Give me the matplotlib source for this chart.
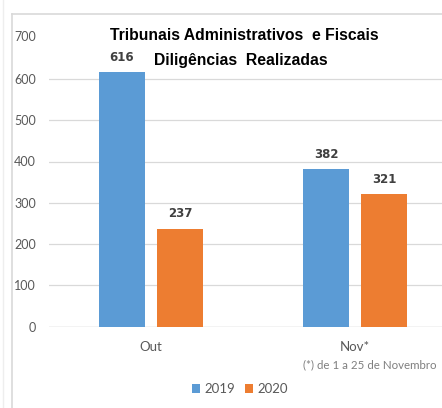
import matplotlib
matplotlib.use("Agg")
import matplotlib.pyplot as plt
from matplotlib.lines import Line2D
from matplotlib.patches import Patch

categories = ["Out", "Nov*"]
series_names = ["2019", "2020"]
values_2019 = [616, 382]
values_2020 = [237, 321]
y_ticks = [0, 100, 200, 300, 400, 500, 600, 700]

W, H = 442, 408
fig = plt.figure(figsize=(W / 100, H / 100), dpi=100)
fig.patch.set_facecolor("white")

def fx(px):
    return px / W

def fy(py):
    return 1 - py / H

# outer frame of the chart object
frame_col = "#d9d9d9"
fig.add_artist(Line2D([fx(12), fx(12)], [fy(14), 0], color=frame_col, lw=1.2, transform=fig.transFigure))
fig.add_artist(Line2D([fx(12), 1], [fy(14), fy(14)], color=frame_col, lw=1.2, transform=fig.transFigure))
fig.add_artist(Line2D([fx(3), fx(3)], [1, 0], color="#eeeeee", lw=1.0, transform=fig.transFigure))

left, right = 49, 457
top, bottom = 37.6, 326.7
ax = fig.add_axes([fx(left), fy(bottom), (right - left) / W, (bottom - top) / H])
ax.set_xlim(-0.5, 1.5)
ax.set_ylim(0, 700)

blue = "#5b9bd5"
orange = "#ed7d31"
width = 0.225
off = 0.142
xs = range(len(categories))
b1 = ax.bar([x - off for x in xs], values_2019, width, color=blue, zorder=3)
b2 = ax.bar([x + off for x in xs], values_2020, width, color=orange, zorder=3)

for bars, vals in ((b1, values_2019), (b2, values_2020)):
    for rect, v in zip(bars, vals):
        ax.annotate(str(v), (rect.get_x() + rect.get_width() / 2, v),
                    xytext=(0, 6), textcoords="offset points", ha="center", va="bottom",
                    fontsize=8.5, fontweight="bold", color="#404040",
                    family="DejaVu Sans", zorder=4)

ax.set_yticks(y_ticks[:-1])
ax.yaxis.grid(True, color=frame_col, lw=0.9, zorder=0)
for s in ax.spines.values():
    s.set_visible(False)
ax.axhline(0, color=frame_col, lw=1.0, zorder=2)
ax.tick_params(axis="both", length=0)
ax.set_yticklabels([str(t) for t in y_ticks[:-1]], fontsize=9, color="#595959", family="Lato")
ax.yaxis.set_tick_params(pad=9.4)
ax.set_xticks([])

# top tick label sits at the axes edge
fig.text(fx(36), fy(37), str(y_ticks[-1]), fontsize=9, color="#595959", family="Lato",
         ha="right", va="center")

# category labels
for x, lab in zip(xs, categories):
    ax.text(x, -(347 - bottom) / (bottom - top), lab, transform=ax.get_xaxis_transform(),
            ha="center", va="center", fontsize=9.5, color="#595959", family="Lato")

fig.text(fx(303), fy(365), "(*) de 1 a 25 de Novembro", fontsize=8.3, color="#7f7f7f",
         family="Lato", ha="left", va="center")

# title
fig.text(fx(244), fy(35), "Tribunais Administrativos  e Fiscais", fontsize=11.3, fontweight="bold",
         family="Liberation Sans", color="black", ha="center", va="center")
fig.text(fx(241), fy(60), "Diligências  Realizadas", fontsize=11.3, fontweight="bold",
         family="Liberation Sans", color="black", ha="center", va="center")

handles = [Patch(facecolor=blue, label=series_names[0]), Patch(facecolor=orange, label=series_names[1])]
fig.legend(handles=handles, loc="center", bbox_to_anchor=(fx(240), fy(389)), ncol=2, frameon=False,
           prop={"family": "Lato", "size": 9.5}, handlelength=0.6, handleheight=0.6,
           handletextpad=0.3, columnspacing=0.8, labelcolor="#595959")

fig.savefig("out.png", dpi=100, facecolor="white")
